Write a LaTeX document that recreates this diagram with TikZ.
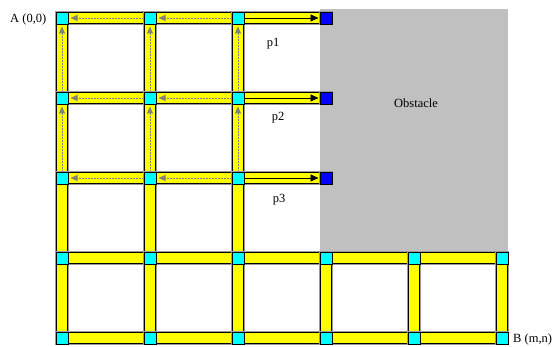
\documentclass[tikz,border=0pt]{standalone}
\usepackage{fontspec}
\setmainfont{Liberation Serif}
\usetikzlibrary{arrows.meta,backgrounds}
\definecolor{cyanbox}{RGB}{0,255,255}
\definecolor{bluebox}{RGB}{0,0,255}
\definecolor{baryellow}{RGB}{255,255,0}
\definecolor{obstgray}{RGB}{192,192,192}
\definecolor{arrgray}{RGB}{128,128,128}
\begin{document}
\begin{tikzpicture}[x=1pt,y=-1pt,
  sq/.style={draw=black, line width=0.8pt, fill=cyanbox, minimum size=12pt, inner sep=0pt, outer sep=0pt,
             preaction={draw=arrgray!80, line width=1.8pt}},
  bsq/.style={sq, fill=bluebox},
  bar/.style={draw=black, line width=0.8pt, double=baryellow, double distance=10.4pt,
              preaction={draw=arrgray!80, line width=13.4pt}},
  garrow/.style={draw=arrgray, line width=0.6pt, dash pattern=on 0.7pt off 0.8pt,
                 -{Triangle[length=7pt,width=6pt]}, shorten >=2.5pt, shorten <=1.5pt},
  barrow/.style={draw=black, line width=0.7pt, -{Triangle[length=8pt,width=7pt]}, shorten >=1.5pt, shorten <=1pt},
  lbl/.style={font=\fontsize{12.5}{14}\selectfont, inner sep=0pt, anchor=base}
]
\useasboundingbox (0,0) rectangle (553,347);

% grid nodes
\foreach \r/\y in {1/18,2/98,3/178}{
  \foreach \c/\x in {1/62,2/150,3/238}{
    \node[sq] (n-\r-\c) at (\x,\y) {};
  }
  \node[bsq] (n-\r-4) at (326,\y) {};
}
\foreach \r/\y in {4/258,5/338}{
  \foreach \c/\x in {1/62,2/150,3/238,4/326,5/414,6/502}{
    \node[sq] (n-\r-\c) at (\x,\y) {};
  }
}

\begin{scope}[on background layer]
  \fill[obstgray] (320,9) rectangle (508,253);
  % horizontal bars rows 1-3
  \foreach \r in {1,2,3}{
    \foreach \c [count=\d from 2] in {1,2,3}{
      \draw[bar] (n-\r-\c) -- (n-\r-\d);
    }
  }
  % horizontal bars rows 4-5
  \foreach \r in {4,5}{
    \foreach \c [count=\d from 2] in {1,...,5}{
      \draw[bar] (n-\r-\c) -- (n-\r-\d);
    }
  }
  % vertical bars
  \foreach \c in {1,2,3}{
    \foreach \r [count=\s from 2] in {1,...,4}{
      \draw[bar] (n-\r-\c) -- (n-\s-\c);
    }
  }
  \foreach \c in {4,5,6}{
    \draw[bar] (n-4-\c) -- (n-5-\c);
  }
\end{scope}

% gray dotted arrows (left)
\foreach \r in {1,2,3}{
  \draw[garrow] (n-\r-2) -- (n-\r-1);
  \draw[garrow] (n-\r-3) -- (n-\r-2);
}
% gray dotted arrows (up)
\foreach \c in {1,2,3}{
  \draw[garrow] (n-2-\c) -- (n-1-\c);
  \draw[garrow] (n-3-\c) -- (n-2-\c);
}
% black arrows to blue squares
\foreach \r in {1,2,3}{
  \draw[barrow] (n-\r-3) -- (n-\r-4);
}

% labels
\node[lbl] (p1) at (273,46.5) {p1};
\node[lbl] (p2) at (278,121) {p2};
\node[lbl] (p3) at (279,202) {p3};
\node[lbl] (obst) at (416,107.5) {Obstacle};
\node[lbl, anchor=base west] (A) at (10,22.5) {A (0,0)};
\node[lbl, anchor=base west] (B) at (513,342) {B (m,n)};
\end{tikzpicture}
\end{document}
